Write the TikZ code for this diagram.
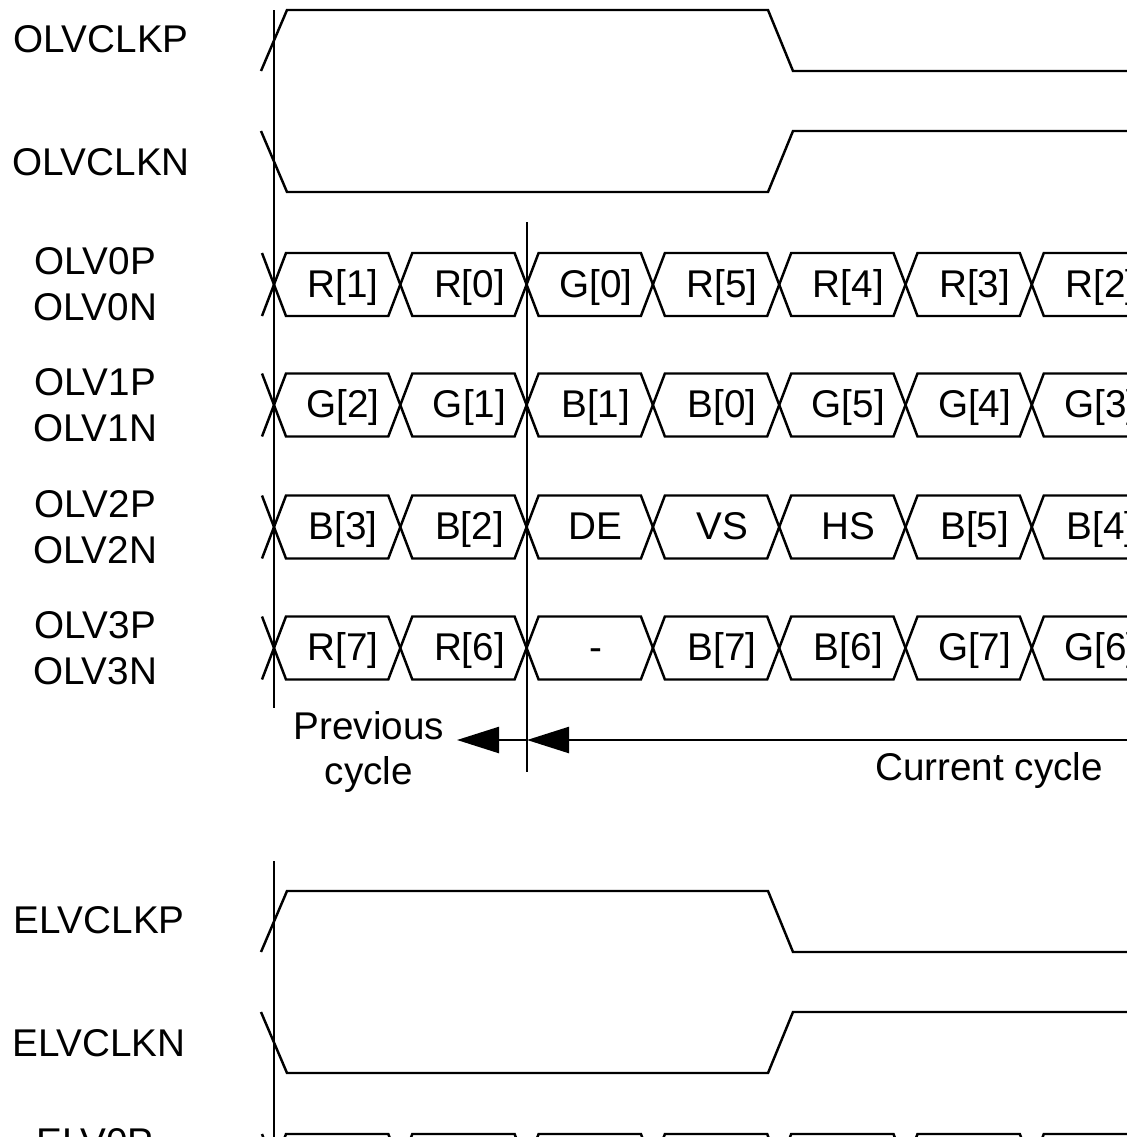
\documentclass[tikz,border=0pt]{standalone}
\usepackage{fontspec}
\setmainfont{Liberation Sans}
\usetikzlibrary{arrows.meta}
\tikzset{
  wave/.style={
    line width=0.7pt,
    line join=miter
  },
  sig-label/.style={font=\fontsize{11}{13}\selectfont, align=center, inner sep=0pt},
  cell-label/.style={font=\fontsize{11}{13}\selectfont, inner sep=0pt, text height=0.72em, text depth=0pt},
  cycle-arrow/.style={wave, -{Triangle[length=0.42cm, width=0.26cm]}}
}
% clock pair: #1 = level of P high
\newcommand{\clockpair}[1]{
  \draw[wave] (2.61,#1-0.61) -- (2.87,#1) -- (7.68,#1) -- (7.93,#1-0.61) -- (11.4,#1-0.61);
  \draw[wave] (2.61,#1-1.21) -- (2.87,#1-1.82) -- (7.68,#1-1.82) -- (7.93,#1-1.21) -- (11.4,#1-1.21);
}
% bus row: #1 = centre line, #2 = name, #3 = cell labels
\newcommand{\busrow}[3]{
  \foreach \lbl [count=\k from 0] in {#3} {
    \pgfmathsetmacro{\xa}{2.74+1.263*\k}
    \pgfmathsetmacro{\xb}{\xa+1.263}
    \draw[wave] (\xa,#1) -- (\xa+0.12,#1+0.315) -- (\xb-0.12,#1+0.315)
      -- (\xb,#1) -- (\xb-0.12,#1-0.315) -- (\xa+0.12,#1-0.315) -- cycle;
    \node[cell-label] (#2-\k) at ({(\xa+\xb)/2+0.06},#1) {\lbl};
  }
  \draw[wave] (2.62,#1+0.315) -- (2.74,#1) -- (2.62,#1-0.315);
}

\begin{document}
\begin{tikzpicture}
  \useasboundingbox (0,0) rectangle (11.27,-11.37);
  \clip (0,0) rectangle (11.27,-11.37);

  % OLV clocks
  \clockpair{-0.10}
  \node[sig-label] (olvclkp) at (1.01,-0.39) {OLVCLKP};
  \node[sig-label] (olvclkn) at (1.01,-1.62) {OLVCLKN};

  % OLV data lanes
  \busrow{-2.845}{olv0}{R[1],R[0],G[0],R[5],R[4],R[3],R[2]}
  \busrow{-4.05}{olv1}{G[2],G[1],B[1],B[0],G[5],G[4],G[3]}
  \busrow{-5.27}{olv2}{B[3],B[2],DE,VS,HS,B[5],B[4]}
  \busrow{-6.48}{olv3}{R[7],R[6],-,B[7],B[6],G[7],G[6]}
  \node[sig-label] (olv0) at (0.95,-2.845) {OLV0P\\OLV0N};
  \node[sig-label] (olv1) at (0.95,-4.05) {OLV1P\\OLV1N};
  \node[sig-label] (olv2) at (0.95,-5.27) {OLV2P\\OLV2N};
  \node[sig-label] (olv3) at (0.95,-6.48) {OLV3P\\OLV3N};

  % Cycle markers
  \draw[wave] (2.74,-0.10) -- (2.74,-7.08);
  \draw[wave] (5.27,-2.22) -- (5.27,-7.72);
  \coordinate (cur-start) at (11.4,-7.40);
  \coordinate (cyc-split) at (5.27,-7.40);
  \coordinate (prev-end) at (4.57,-7.40);
  \draw[cycle-arrow] (cur-start) -- (cyc-split);
  \draw[cycle-arrow] (cyc-split) -- (prev-end);
  \node[sig-label] (prev) at (3.69,-7.52) {Previous\\cycle};
  \node[sig-label] (cur) at (9.89,-7.70) {Current cycle};

  % ELV clocks
  \draw[wave] (2.74,-8.61) -- (2.74,-11.5);
  \clockpair{-8.91}
  \node[sig-label] (elvclkp) at (0.99,-9.20) {ELVCLKP};
  \node[sig-label] (elvclkn) at (0.99,-10.43) {ELVCLKN};

  % ELV data lane (cut off)
  \busrow{-11.655}{elv0}{{},{},{},{},{},{},{}}
  \node[sig-label] (elv0) at (0.95,-11.65) {ELV0P\\ELV0N};
\end{tikzpicture}
\end{document}
